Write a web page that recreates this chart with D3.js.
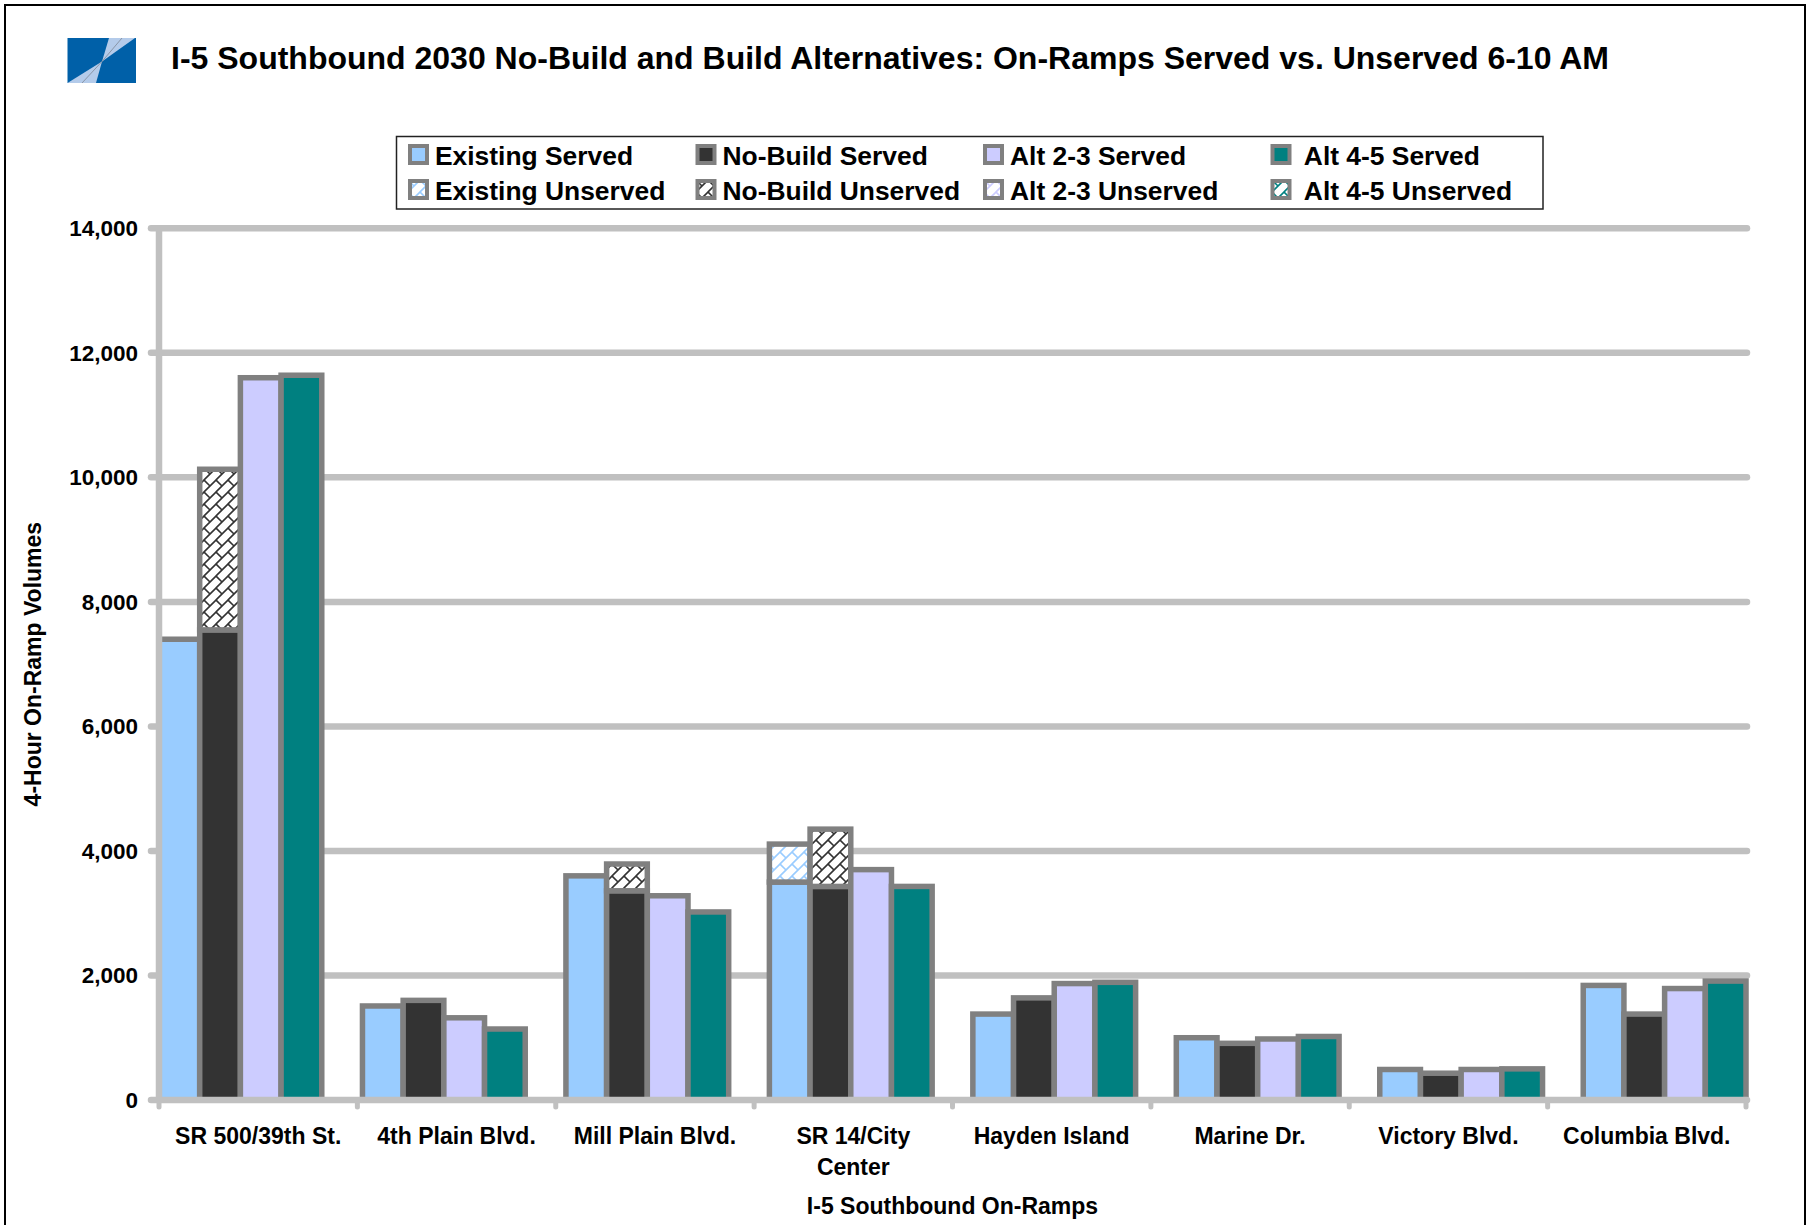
<!DOCTYPE html>
<html>
<head>
<meta charset="utf-8">
<script src="https://cdn.jsdelivr.net/npm/d3@7"></script>
<style>
  html, body { margin: 0; padding: 0; background: #fff; }
  svg { display: block; font-family: "Liberation Sans", Arial, Helvetica, sans-serif; font-weight: bold; }
</style>
</head>
<body>
<svg id="chart" width="1813" height="1225"></svg>
<script>
// ---- data ----
const categories = ["SR 500/39th St.", "4th Plain Blvd.", "Mill Plain Blvd.", "SR 14/City Center",
                    "Hayden Island", "Marine Dr.", "Victory Blvd.", "Columbia Blvd."];

const existingServed   = [7400, 1510, 3600, 3500, 1380, 1000, 490, 1840];
const existingUnserved = [0, 0, 0, 610, 0, 0, 0, 0];
const noBuildServed    = [7550, 1600, 3360, 3430, 1640, 910, 430, 1380];
const noBuildUnserved  = [2580, 0, 430, 920, 0, 0, 0, 0];
const alt23Served      = [11600, 1320, 3280, 3700, 1870, 980, 490, 1790];
const alt23Unserved    = [0, 0, 0, 0, 0, 0, 0, 0];
const alt45Served      = [11640, 1140, 3020, 3430, 1890, 1020, 500, 1910];
const alt45Unserved    = [0, 0, 0, 0, 0, 0, 0, 0];

const seriesKeys   = ["existing", "nobuild", "alt23", "alt45"];
const seriesColors = ["#99CCFF", "#333333", "#CCCCFF", "#008080"];
const servedSets   = [existingServed, noBuildServed, alt23Served, alt45Served];
const unservedSets = [existingUnserved, noBuildUnserved, alt23Unserved, alt45Unserved];

const servedLabels   = ["Existing Served", "No-Build Served", "Alt 2-3 Served", " Alt 4-5 Served"];
const unservedLabels = ["Existing Unserved", "No-Build Unserved", "Alt 2-3 Unserved", " Alt 4-5 Unserved"];

const yTicks = [0, 2000, 4000, 6000, 8000, 10000, 12000, 14000];

const chartTitle = "I-5 Southbound 2030 No-Build and Build Alternatives: On-Ramps Served vs. Unserved 6-10 AM";
const yTitle = "4-Hour On-Ramp Volumes";
const xTitle = "I-5 Southbound On-Ramps";

// ---- layout ----
const svg = d3.select("#chart");
const W = 1813, H = 1225;
const plot = { left: 159, right: 1746, top: 228.3, bottom: 1100 };
const gridColor = "#C0C0C0";
const borderColor = "#808080";

// page frame
svg.append("rect").attr("x", 5).attr("y", 5).attr("width", 1800).attr("height", H + 20)
  .attr("fill", "#fff").attr("stroke", "#000").attr("stroke-width", 2);

// hatch patterns for the unserved portions (diagonal brick)
const defs = svg.append("defs");
seriesKeys.forEach((k, i) => {
  const p = defs.append("pattern").attr("id", "hatch-" + k)
    .attr("patternUnits", "userSpaceOnUse").attr("width", 12).attr("height", 12);
  p.append("rect").attr("width", 12).attr("height", 12).attr("fill", "#fff");
  p.append("path")
    .attr("d", "M-3,3 L3,-3 M0,12 L12,0 M9,15 L15,9 M0,0 L6,6")
    .attr("stroke", seriesColors[i]).attr("stroke-width", 1.6).attr("fill", "none");
});

// logo
const logo = svg.append("g");
logo.append("rect").attr("x", 67.5).attr("y", 38).attr("width", 68.5).attr("height", 45).attr("fill", "#0060A8");
logo.append("path").attr("d", "M109,38 L135,38 L102,61.5 Z").attr("fill", "#B4CBEA");
logo.append("path").attr("d", "M102,61.5 L67.5,83 L96,83 Z").attr("fill", "#B4CBEA");
logo.append("path").attr("d", "M122,38 L102,61.5 L82,83").attr("stroke", "#8A96A8").attr("stroke-width", 1).attr("fill", "none");

// title
svg.append("text").attr("x", 171).attr("y", 69)
  .attr("font-size", 32).attr("fill", "#000").text(chartTitle);

// scales
const y = d3.scaleLinear().domain([0, 14000]).range([plot.bottom, plot.top]);
const xAxisScale = d3.scaleBand().domain(categories).range([plot.left, plot.right]);
const xGroup = d3.scaleBand().domain(categories).range([plot.left, plot.right]).paddingInner(0.2).paddingOuter(0);
const xSeries = d3.scaleBand().domain(d3.range(seriesKeys.length)).range([0, xGroup.bandwidth()]);

// gridlines
svg.append("g").selectAll("line").data(yTicks.filter(d => d > 0)).join("line")
  .attr("x1", plot.left - 8).attr("x2", plot.right + 1)
  .attr("y1", d => y(d)).attr("y2", d => y(d))
  .attr("stroke", gridColor).attr("stroke-width", 6.5).attr("stroke-linecap", "round");

// bars
const barData = [];
categories.forEach((c, ci) => {
  seriesKeys.forEach((k, si) => {
    const s = servedSets[si][ci], u = unservedSets[si][ci];
    barData.push({ c, si, y0: 0, y1: s, fill: seriesColors[si] });
    if (u > 0) barData.push({ c, si, y0: s, y1: s + u, fill: "url(#hatch-" + k + ")" });
  });
});
svg.append("g").selectAll("rect").data(barData).join("rect")
  .attr("x", d => xGroup(d.c) + xSeries(d.si))
  .attr("width", xSeries.bandwidth())
  .attr("y", d => y(d.y1))
  .attr("height", d => y(d.y0) - y(d.y1))
  .attr("fill", d => d.fill)
  .attr("stroke", borderColor).attr("stroke-width", 5.5);

// axis lines
const axisG = svg.append("g");
axisG.append("line").attr("x1", plot.left).attr("x2", plot.left)
  .attr("y1", y(14000)).attr("y2", y(0))
  .attr("stroke", gridColor).attr("stroke-width", 6.5).attr("stroke-linecap", "round");
axisG.append("line").attr("x1", plot.left - 8).attr("x2", plot.right + 1)
  .attr("y1", y(0)).attr("y2", y(0))
  .attr("stroke", gridColor).attr("stroke-width", 6.5).attr("stroke-linecap", "round");
const boundaries = categories.map(c => xAxisScale(c)).concat([plot.right]);
axisG.selectAll("line.tick").data(boundaries).join("line").attr("class", "tick")
  .attr("x1", d => d).attr("x2", d => d)
  .attr("y1", y(0)).attr("y2", y(0) + 7)
  .attr("stroke", gridColor).attr("stroke-width", 5).attr("stroke-linecap", "round");

// y tick labels
const yAxis = d3.axisLeft(y).tickValues(yTicks).tickSize(0).tickPadding(21).tickFormat(d3.format(","));
const yAxisG = svg.append("g").attr("transform", `translate(${plot.left},0)`).call(yAxis);
yAxisG.select(".domain").remove();
yAxisG.selectAll("text").attr("font-size", 22.5).attr("font-family", null).attr("font-weight", "bold").attr("fill", "#000");

// x category labels (wrapped)
const xAxis = d3.axisBottom(xAxisScale).tickSize(0).tickPadding(0);
const xAxisG = svg.append("g").attr("transform", `translate(0,${plot.bottom})`).call(xAxis);
xAxisG.select(".domain").remove();
xAxisG.selectAll("text").attr("font-size", 23).attr("font-family", null).attr("font-weight", "bold")
  .attr("fill", "#000").attr("dy", null).attr("y", 44)
  .each(function () {
    const t = d3.select(this), words = t.text().split(" "), maxW = 178;
    t.text(null);
    let line = [], ts = t.append("tspan").attr("x", 0).attr("y", 44), lineNo = 0;
    words.forEach(w => {
      line.push(w); ts.text(line.join(" "));
      if (ts.node().getComputedTextLength() > maxW && line.length > 1) {
        line.pop(); ts.text(line.join(" "));
        line = [w]; lineNo++;
        ts = t.append("tspan").attr("x", 0).attr("y", 44 + lineNo * 31).text(w);
      }
    });
  });

// axis titles
svg.append("text").attr("transform", `translate(41,${(plot.top + plot.bottom) / 2}) rotate(-90)`)
  .attr("text-anchor", "middle").attr("font-size", 23).attr("fill", "#000").text(yTitle);
svg.append("text").attr("x", (plot.left + plot.right) / 2).attr("y", 1214)
  .attr("text-anchor", "middle").attr("font-size", 23).attr("fill", "#000").text(xTitle);

// legend
const legend = svg.append("g");
legend.append("rect").attr("x", 396.5).attr("y", 136.5).attr("width", 1146.5).attr("height", 72.5)
  .attr("fill", "#fff").attr("stroke", "#222").attr("stroke-width", 1.5);
const colX = [408, 695.5, 983, 1270.5];
const rowBase = [165, 200];
seriesKeys.forEach((k, i) => {
  [[servedLabels[i], seriesColors[i]], [unservedLabels[i], "url(#hatch-" + k + ")"]].forEach(([lab, fill], r) => {
    legend.append("rect").attr("x", colX[i] + 2).attr("y", rowBase[r] - 19).attr("width", 17).attr("height", 17)
      .attr("fill", fill).attr("stroke", borderColor).attr("stroke-width", 4);
    legend.append("text").attr("x", colX[i] + 27).attr("y", rowBase[r])
      .attr("font-size", 26.4).attr("fill", "#000").style("white-space", "pre").text(lab);
  });
});
</script>
</body>
</html>
